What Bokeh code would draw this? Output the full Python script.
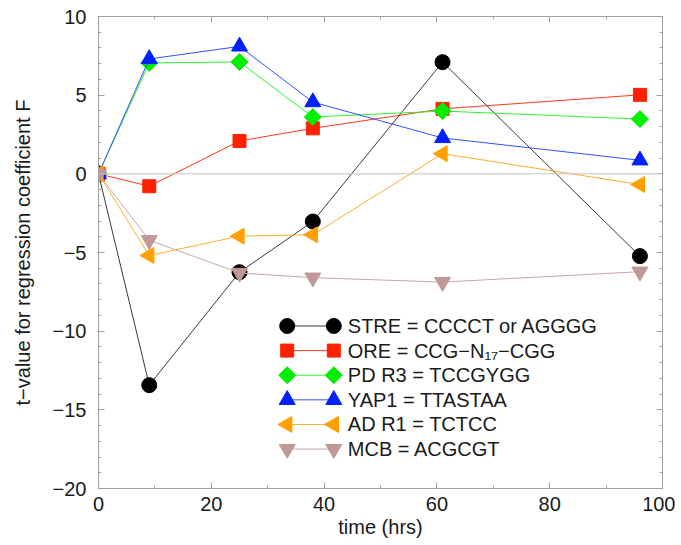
import numpy as np
from bokeh.plotting import figure
from bokeh.models import LinearAxis, Range1d, FixedTicker, Span
from bokeh.core.properties import value
from bokeh.embed import file_html
from bokeh.resources import INLINE

# ---------------- data ----------------
time_hrs = [0, 9, 25, 38, 61, 96]
stre = [0, -13.43, -6.25, -3.03, 7.1, -5.23]
ore = [0, -0.79, 2.09, 2.89, 4.13, 5.02]
pdr3 = [0, 7.05, 7.11, 3.61, 3.99, 3.48]
yap1 = [0, 7.3, 8.1, 4.56, 2.28, 0.86]
adr1 = [0, -5.19, -3.96, -3.87, 1.28, -0.68]
mcb = [0, -4.22, -6.3, -6.6, -6.88, -6.22]

series_names = ["STRE = CCCCT or AGGGG", "ORE = CCG\u2212N\u2081\u2087\u2212CGG",
                "PD R3 = TCCGYGG", "YAP1 = TTASTAA", "AD R1 = TCTCC", "MCB = ACGCGT"]
series_values = [stre, ore, pdr3, yap1, adr1, mcb]

x_ticks = [0, 20, 40, 60, 80, 100]
y_ticks = [-20, -15, -10, -5, 0, 5, 10]
y_tick_labels = ["\u221220", "\u221215", "\u221210", "\u22125", "0", "5", "10"]

# ---------------- styles ----------------
line_colors = ["#3a3a3a", "#ff3a1a", "#30f030", "#3050ff", "#ffaa30", "#c8a8a8"]
mark_colors = ["#000000", "#ff2000", "#00ee00", "#0020ff", "#ffa000", "#c09898"]
markers = ["circle", "square", "square", "triangle", "triangle", "inverted_triangle"]
sizes = [15, 13, 12, 16, 16, 16]
angles = [0, 0, np.pi / 4, 0, np.pi / 2, 0]

FONT = "Liberation Sans"
TEXT_COLOR = "#1a1a1a"
AXIS_COLOR = "#a0a0a0"

# legend layout (in plot units)
LEG_X0, LEG_X1, LEG_TX = 33.46, 41.72, 44.2
LEG_Y0, LEG_DY = -9.67, -1.565

p = figure(width=675, height=540, x_range=Range1d(0, 100), y_range=Range1d(-20, 10),
           output_backend="svg", toolbar_location=None,
           min_border_left=98, min_border_right=13, min_border_top=16, min_border_bottom=51)
p.grid.visible = False
p.outline_line_color = AXIS_COLOR
p.background_fill_color = "white"
p.border_fill_color = "white"

bottom_axis = p.below[0]
left_axis = p.left[0]

p.add_layout(Span(location=0, dimension="width", line_color="#c4c4c4", line_width=1))

top_axis = LinearAxis()
right_axis = LinearAxis()
p.add_layout(top_axis, "above")
p.add_layout(right_axis, "right")

for ax in [bottom_axis, top_axis]:
    ax.ticker = FixedTicker(ticks=x_ticks, minor_ticks=list(range(0, 101, 10)))
for ax in [left_axis, right_axis]:
    ax.ticker = FixedTicker(ticks=y_ticks, minor_ticks=list(range(-20, 11)))

for ax in [bottom_axis, left_axis, top_axis, right_axis]:
    ax.axis_line_color = AXIS_COLOR
    ax.major_tick_line_color = AXIS_COLOR
    ax.minor_tick_line_color = AXIS_COLOR
    ax.major_tick_in = 6
    ax.major_tick_out = 0
    ax.minor_tick_in = 3
    ax.minor_tick_out = 0
    ax.major_label_text_font = FONT
    ax.major_label_text_font_size = "20px"
    ax.major_label_text_color = TEXT_COLOR
    ax.axis_label_text_font = FONT
    ax.axis_label_text_font_size = "20px"
    ax.axis_label_text_font_style = "normal"
    ax.axis_label_text_color = TEXT_COLOR

top_axis.major_label_overrides = {t: "" for t in x_ticks}
right_axis.major_label_overrides = {t: "" for t in y_ticks}
for ax in [top_axis, right_axis]:
    ax.major_label_standoff = 0

left_axis.major_label_overrides = {t: l for t, l in zip(y_ticks, y_tick_labels)}
left_axis.major_label_standoff = 12
left_axis.axis_label = "t\u2212value for regression coefficient F"
left_axis.axis_label_standoff = 16
bottom_axis.major_label_standoff = 8
bottom_axis.axis_label = "time (hrs)"
bottom_axis.axis_label_standoff = 2

for i, vals in enumerate(series_values):
    p.line(time_hrs, vals, line_color=line_colors[i], line_width=1)
    p.scatter(time_hrs, vals, marker=markers[i], size=sizes[i], angle=angles[i],
              fill_color=mark_colors[i], line_color=mark_colors[i])

# legend
for i in range(len(series_names)):
    yy = LEG_Y0 + i * LEG_DY
    p.line([LEG_X0, LEG_X1], [yy, yy], line_color=line_colors[i], line_width=1)
    p.scatter([LEG_X0, LEG_X1], [yy, yy], marker=markers[i], size=sizes[i], angle=angles[i],
              fill_color=mark_colors[i], line_color=mark_colors[i])

p.text(x=[LEG_TX] * len(series_names),
       y=[LEG_Y0 + i * LEG_DY for i in range(len(series_names))],
       text=series_names, text_font=value(FONT), text_font_size="20px",
       text_baseline="middle", text_color=TEXT_COLOR)

open("out.html", "w").write(file_html(p, INLINE))
